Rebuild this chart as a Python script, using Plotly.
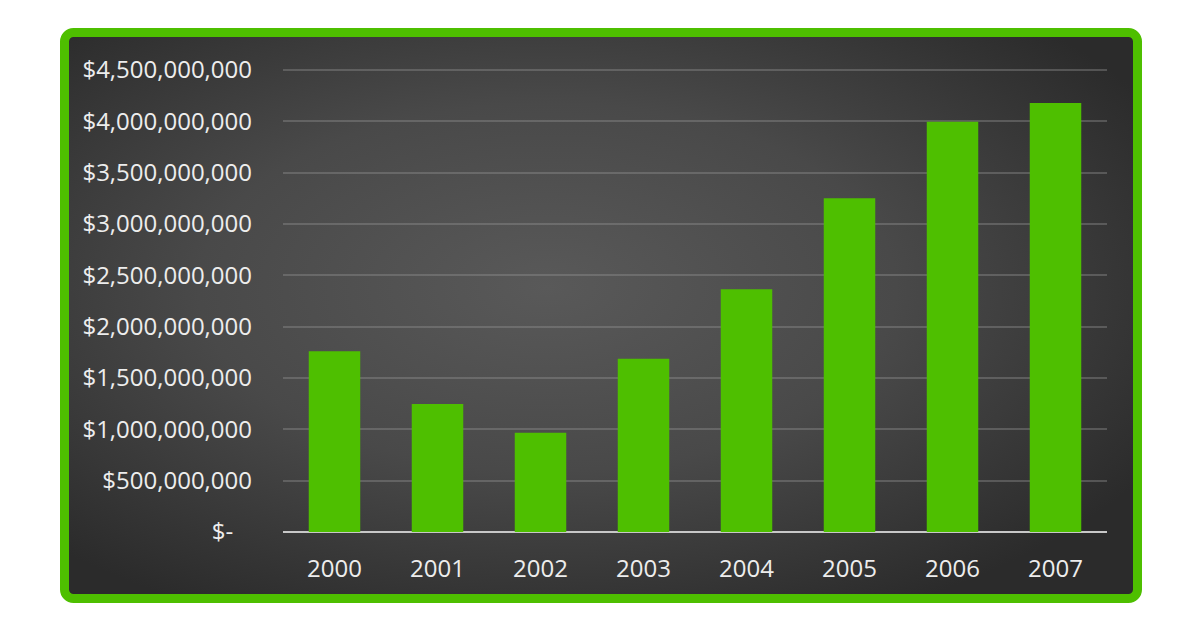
import base64
import plotly.graph_objects as go

W, H = 1200, 630
OFF = 8  # page body margin pushes the figure 8px right and down

years = ["2000", "2001", "2002", "2003", "2004", "2005", "2006", "2007"]
values = [1.76e9, 1.247e9, 0.967e9, 1.688e9, 2.364e9, 3.25e9, 3.997e9, 4.18e9]

tick_vals = [0, 0.5e9, 1e9, 1.5e9, 2e9, 2.5e9, 3e9, 3.5e9, 4e9, 4.5e9]
tick_text = ["$-\u00a0\u00a0\u00a0"] + [f"${v:,.0f}" for v in tick_vals[1:]]

GREEN = "#4ebf00"

# dark panel with radial glow and green rounded frame, drawn as an svg image
svg = f"""<svg xmlns='http://www.w3.org/2000/svg' width='1082' height='575' viewBox='0 0 1082 575'>
<defs><radialGradient id='g' cx='0.45' cy='0.45' r='0.65'>
<stop offset='0' stop-color='#595959'/><stop offset='0.5' stop-color='#494949'/>
<stop offset='1' stop-color='#2b2b2b'/></radialGradient></defs>
<rect x='4.5' y='4.5' width='1073' height='566' rx='9' ry='9' fill='url(#g)' stroke='{GREEN}' stroke-width='9'/>
</svg>"""
bg_src = "data:image/svg+xml;base64," + base64.b64encode(svg.encode()).decode()

fig = go.Figure()
fig.add_trace(go.Bar(
    x=years,
    y=values,
    marker=dict(color=GREEN, line=dict(width=0)),
    width=0.5,
    hovertemplate="%{x}: $%{y:,.0f}<extra></extra>",
))

fig.add_layout_image(dict(
    source=bg_src,
    xref="paper", yref="paper",
    x=(60 - OFF) / W, y=1 - (28 - OFF) / H,
    sizex=1082 / W, sizey=575 / H,
    xanchor="left", yanchor="top",
    sizing="stretch",
    layer="below",
))

fig.update_layout(
    template="none",
    width=W,
    height=H,
    margin=dict(l=0, r=0, t=0, b=0, autoexpand=False),
    paper_bgcolor="white",
    plot_bgcolor="rgba(0,0,0,0)",
    showlegend=False,
    font=dict(family="Open Sans", size=24, color="#ededed"),
    xaxis=dict(
        domain=[(283 - OFF) / W, (1107 - OFF) / W],
        automargin=False,
        showgrid=False,
        zeroline=False,
        showline=False,
        ticks="",
        ticklabelstandoff=20,
        tickfont=dict(size=24, color="#ededed"),
        fixedrange=True,
    ),
    yaxis=dict(
        domain=[1 - (532 - OFF) / H, 1 - (69 - OFF) / H],
        range=[0, 4.51e9],
        automargin=False,
        tickmode="array",
        tickvals=tick_vals,
        ticktext=tick_text,
        showgrid=True,
        gridcolor="rgba(150,150,150,0.38)",
        gridwidth=1.5,
        zeroline=True,
        zerolinecolor="#c8c8c8",
        zerolinewidth=2,
        showline=False,
        ticks="",
        ticklabelstandoff=30,
        tickfont=dict(size=24, color="#ededed"),
        fixedrange=True,
    ),
)

fig.write_html("out.html")
